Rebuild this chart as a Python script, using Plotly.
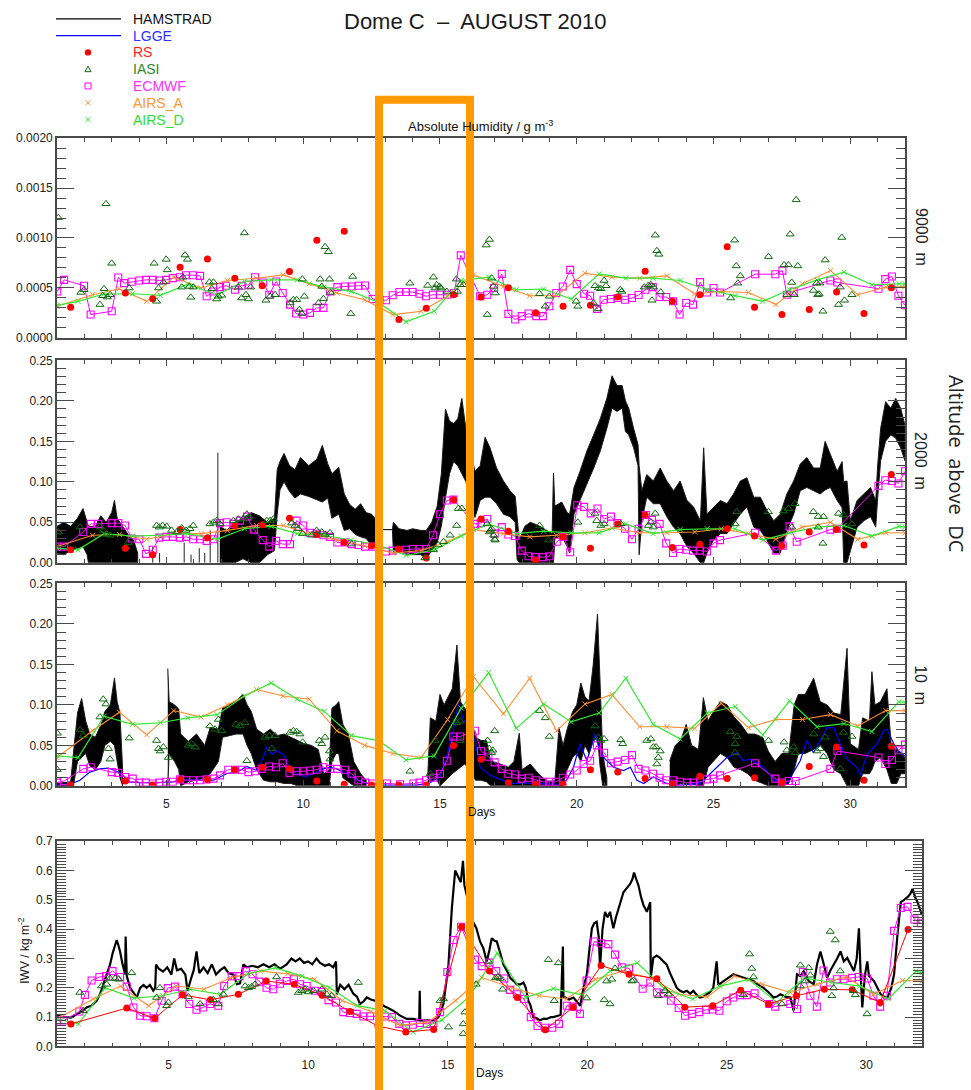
import plotly.graph_objects as go

W, H = 971, 1090

# ============================ DATA ============================
# Day of August 2010 on the x axis.

# ---------- 9000 m (absolute humidity, units of 1e-4 g m-3) ----------
ECMWF_9000_DAY = [1.01, 1.26, 1.99, 2.23, 3.0, 3.24, 3.45, 3.73, 4.01, 4.25,
                  4.5, 4.74, 4.99, 5.23, 5.5, 5.72, 5.96, 6.23, 6.47, 6.72,
                  6.96, 7.18, 7.51, 7.75, 8.0, 8.24, 8.54, 8.76, 9.01, 9.25,
                  9.52, 9.74, 10.01, 10.25, 10.49, 10.74, 10.98, 11.25, 11.53, 11.77,
                  12.02, 12.26, 12.54, 12.79, 13.03, 13.27, 13.52, 13.76, 14.0, 14.25,
                  14.49, 14.74, 15.0, 15.27, 15.52, 15.76, 16.47, 16.73, 16.98, 17.26,
                  17.5, 17.75, 17.99, 18.24, 18.52, 18.76, 19.0, 19.25, 19.49, 19.76,
                  20.0, 20.27, 20.49, 20.74, 20.98, 21.25, 21.49, 21.77, 22.02, 22.26,
                  22.51, 22.78, 23.03, 23.27, 23.52, 23.76, 24.0, 24.25, 24.51, 24.76,
                  25.0, 25.24, 26.52, 27.26, 27.52, 27.68, 27.93, 29.27, 29.53, 31.03,
                  31.28, 31.52, 31.76, 32.0]
ECMWF_9000 = [4.64, 5.80, 5.21, 2.32, 2.65, 6.04, 5.47, 5.61, 5.74, 5.80,
              5.80, 5.74, 5.80, 5.97, 6.07, 6.27, 6.27, 6.20, 4.15, 4.64,
              5.07, 5.21, 4.81, 5.21, 5.31, 6.07, 5.54, 4.31, 5.64, 4.48,
              3.32, 2.42, 2.32, 2.49, 2.99, 2.99, 4.64, 5.07, 5.14, 5.14,
              5.21, 5.24, 3.88, 3.81, 3.75, 4.25, 4.58, 4.58, 4.58, 4.41,
              4.15, 4.31, 4.31, 4.31, 4.48, 8.26, 4.15, 4.31, 4.98, 6.40,
              2.39, 1.82, 2.16, 2.42, 2.16, 2.16, 3.15, 4.48, 5.14, 6.80,
              5.37, 4.41, 4.21, 2.89, 3.81, 3.88, 3.98, 3.81, 3.98, 4.28,
              4.81, 5.07, 4.08, 4.08, 3.65, 2.32, 3.48, 3.32, 5.57, 4.54,
              4.98, 4.54, 6.37, 6.37, 6.73, 4.31, 4.64, 5.74, 5.54, 4.91,
              5.87, 6.14, 4.21, 3.25]

RS_9000_DAY = [1.5, 3.5, 4.5, 5.5, 6.5, 7.5, 8.5, 9.5, 10.5, 11.5,
               13.5, 14.5, 15.5, 16.5, 17.5, 18.5, 19.5, 20.5, 21.5, 22.5,
               23.5, 24.5, 25.5, 26.5, 27.5, 28.5, 29.5, 30.5, 31.5]
RS_9000 = [3.05, 4.48, 3.91, 7.06, 7.89, 5.97, 5.21, 6.63, 9.78, 10.68,
           1.82, 2.95, 4.31, 4.08, 5.01, 2.49, 3.15, 3.25, 4.08, 6.67,
           3.65, 4.31, 9.12, 3.05, 2.32, 2.82, 4.58, 2.42, 5.01]

IASI_9000_DAY = [1.05, 2.79, 3.0, 1.87, 1.99, 2.72, 2.57, 2.67, 2.84, 2.94,
                 3.64, 4.55, 4.99, 5.03, 4.89, 4.71, 4.64, 5.68, 5.77, 5.56,
                 5.6, 5.84, 5.98, 5.89, 6.57, 6.72, 6.66, 6.84, 6.9, 7.02,
                 7.85, 7.63, 7.75, 7.91, 8.0, 8.08, 8.64, 8.79, 8.97, 9.52,
                 9.64, 9.76, 9.86, 9.95, 10.04, 9.97, 10.62, 10.8, 10.92, 10.96,
                 10.68, 10.56, 10.74, 11.0, 11.81, 11.74, 13.9, 14.55, 14.76, 14.88,
                 14.98, 15.04, 14.82, 15.25, 15.6, 15.64, 15.74, 15.86, 16.69, 16.81,
                 16.73, 16.89, 16.95, 17.02, 18.64, 18.85, 19.0, 19.98, 20.04, 20.67,
                 20.79, 20.88, 21.0, 21.07, 20.61, 20.79, 21.59, 21.65, 22.47, 22.62,
                 22.71, 22.81, 22.75, 22.87, 22.93, 23.0, 23.07, 25.63, 25.77, 25.83,
                 25.98, 25.89, 27.01, 27.58, 27.74, 27.8, 28.02, 28.08, 27.86, 27.68,
                 27.95, 28.65, 28.77, 28.89, 28.81, 28.86, 29.0, 29.08, 29.57, 29.63,
                 29.69, 29.79, 30.06]
IASI_9000 = [12.04, 13.43, 7.46, 4.54, 4.81, 4.91, 3.32, 4.21, 4.08, 4.31,
             4.98, 7.46, 7.86, 6.80, 5.57, 4.98, 3.65, 8.29, 7.86, 5.07,
             6.07, 5.14, 5.07, 4.05, 5.57, 5.57, 4.91, 3.88, 4.15, 4.25,
             10.51, 5.07, 3.98, 4.31, 3.88, 5.07, 3.75, 4.15, 4.31, 3.48,
             3.81, 3.81, 2.82, 2.42, 4.15, 5.87, 5.87, 9.12, 8.62, 5.87,
             5.14, 3.48, 3.91, 4.54, 6.14, 2.42, 5.47, 5.24, 6.07, 5.31,
             5.14, 4.98, 4.98, 4.64, 5.87, 4.64, 5.31, 5.31, 9.29, 9.85,
             2.32, 5.97, 5.14, 4.48, 4.41, 3.15, 4.15, 3.65, 3.15, 5.21,
             4.98, 4.91, 5.74, 5.21, 3.48, 2.89, 4.81, 4.64, 5.07, 5.24,
             5.31, 5.07, 3.75, 10.28, 8.72, 8.36, 4.58, 3.98, 9.78, 7.2,
             6.2, 5.47, 8.13, 7.3, 7.3, 10.38, 13.83, 7.2, 5.54, 4.31,
             4.31, 4.74, 5.47, 5.47, 4.31, 4.38, 2.65, 7.79, 3.32, 5.07,
             10.05, 3.75, 4.31]

# AIRS ascending / descending overpass times (shared by all levels)
AIRS_A_DAY = [1.0, 2.3, 3.28, 4.28, 5.27, 6.27, 7.23, 8.29, 9.27, 10.22,
              11.23, 12.25, 13.28, 14.31, 15.28, 16.22, 17.32, 18.28, 19.26, 20.3,
              21.28, 22.3, 23.29, 24.31, 25.28, 26.28, 27.28, 28.25, 29.28, 30.27,
              31.3, 32.0]
AIRS_D_DAY = [1.0, 1.77, 2.72, 3.76, 4.78, 5.78, 6.85, 7.85, 8.83, 9.78,
              10.77, 11.76, 12.75, 13.76, 14.79, 15.78, 16.78, 17.79, 18.79, 19.8,
              20.82, 21.79, 22.79, 23.78, 24.77, 25.79, 26.8, 27.78, 28.78, 29.77,
              30.79, 31.78, 32.0]

AIRS_A_9000 = [3.15, 4.31, 4.91, 3.65, 6.07, 4.98, 5.74, 5.97, 6.30, 5.41,
               4.48, 3.81, 2.32, 2.65, 4.15, 6.30, 5.14, 4.21, 4.21, 6.47,
               6.07, 5.97, 6.20, 4.41, 4.64, 4.54, 3.32, 5.41, 6.73, 4.31,
               5.07, 5.14]
AIRS_D_9000 = [3.25, 3.65, 4.38, 4.41, 4.25, 5.37, 4.31, 5.64, 5.80, 5.80,
               5.07, 4.64, 3.55, 1.59, 2.65, 5.74, 6.07, 4.81, 4.88, 3.88,
               6.40, 5.97, 5.97, 5.74, 4.81, 4.21, 3.65, 4.81, 5.80, 6.57,
               5.31, 5.40, 5.41]

# ---------- 2000 m (absolute humidity, g m-3) ----------
# HAMSTRAD envelope (low / high of the 7-min record); None splits data gaps
HAM_2000_DAY = [1.0, 1.25, 1.5, 1.75, 1.95, 2.1, 2.15, 2.4, 2.6, 2.8,
                3.0, 3.1, 3.2, 3.4, 3.6, 3.8, 3.95, None,
                6.95, 7.2, 7.5, 7.8, 8.1, 8.4, 8.7, 8.95, 9.05, 9.15,
                9.3, 9.5, 9.7, 9.9, 10.2, 10.5, 10.7, 10.9, 11.05, 11.3,
                11.5, 11.7, 11.9, 12.1, 12.3, 12.5, 12.62, 12.66, 13.26, 13.3,
                13.5, 13.8, 14.0, 14.3, 14.5, 14.7, 14.9, 15.05, 15.2, 15.35,
                15.5, 15.65, 15.8, 15.95, 16.1, 16.28, 16.47, 16.65, 16.83, 17.07,
                17.32, 17.56, 17.75, 17.82, 17.9, 18.1, 18.3, 18.6, 18.9, 19.1,
                19.15, 19.2, 19.45, 19.65, 19.74, 19.9, 20.12, 20.37, 20.62, 20.86,
                21.1, 21.29, 21.47, 21.66, 21.78, 21.9, 22.08, 22.24, 22.28, 22.38,
                22.56, 22.8, 23.05, 23.29, 23.54, 23.78, 24.03, 24.27, 24.52, 24.64,
                24.76, 25.0, 25.25, 25.49, 25.73, 25.98, 26.22, 26.47, 26.71, 26.95,
                27.2, 27.44, 27.68, 27.93, 28.17, 28.41, 28.66, 28.9, 29.08, 29.27,
                29.52, 29.7, 29.76, 29.88, 30.0, 30.25, 30.5, 30.74, 30.93, 31.0,
                31.11, 31.29, 31.48, 31.66, 31.84, 32.0]
HAM_2000_LO = [0.012, 0.010, 0.015, 0.018, 0.020, 0.010, 0.0, 0.0, 0.0, 0.0,
               0.0, 0.0, 0.0, 0.0, 0.0, 0.0, 0.0, None,
               0.0, 0.0, 0.0, 0.005, 0.0, 0.0, 0.010, 0.015, 0.060, 0.090,
               0.100, 0.088, 0.080, 0.085, 0.082, 0.078, 0.075, 0.080, 0.055, 0.060,
               0.040, 0.042, 0.035, 0.032, 0.030, 0.022, 0.020, 0.041, 0.041, 0.012,
               0.015, 0.010, 0.010, 0.010, 0.005, 0.015, 0.025, 0.045, 0.080, 0.110,
               0.125, 0.120, 0.110, 0.100, 0.080, 0.056, 0.077, 0.081, 0.081, 0.073,
               0.060, 0.057, 0.050, 0.004, 0.0, 0.0, 0.0, 0.0, 0.0, 0.0,
               0.0, 0.030, 0.033, 0.020, 0.012, 0.060, 0.077, 0.097, 0.117, 0.138,
               0.166, 0.191, 0.187, 0.191, 0.162, 0.158, 0.142, 0.120, 0.010, 0.052,
               0.081, 0.073, 0.073, 0.057, 0.044, 0.036, 0.020, 0.012, 0.0, 0.0,
               0.012, 0.028, 0.036, 0.036, 0.048, 0.060, 0.069, 0.044, 0.040, 0.028,
               0.012, 0.012, 0.040, 0.060, 0.089, 0.093, 0.089, 0.085, 0.090, 0.093,
               0.077, 0.068, 0.0, 0.0, 0.012, 0.044, 0.052, 0.057, 0.044, 0.080,
               0.126, 0.150, 0.158, 0.154, 0.142, 0.126]
HAM_2000_HI = [0.045, 0.050, 0.045, 0.055, 0.067, 0.050, 0.045, 0.045, 0.058, 0.050,
               0.062, 0.077, 0.055, 0.045, 0.035, 0.028, 0.012, None,
               0.045, 0.040, 0.050, 0.055, 0.062, 0.058, 0.050, 0.055, 0.115, 0.125,
               0.135, 0.120, 0.115, 0.130, 0.120, 0.128, 0.145, 0.122, 0.110, 0.118,
               0.085, 0.072, 0.066, 0.073, 0.062, 0.060, 0.055, 0.041, 0.041, 0.050,
               0.042, 0.040, 0.042, 0.040, 0.040, 0.050, 0.070, 0.110, 0.190, 0.175,
               0.172, 0.178, 0.203, 0.165, 0.140, 0.113, 0.120, 0.155, 0.142, 0.117,
               0.101, 0.089, 0.082, 0.060, 0.028, 0.045, 0.050, 0.046, 0.040, 0.036,
               0.111, 0.070, 0.075, 0.062, 0.060, 0.093, 0.113, 0.138, 0.158, 0.178,
               0.203, 0.231, 0.219, 0.219, 0.200, 0.191, 0.166, 0.146, 0.120, 0.089,
               0.109, 0.101, 0.117, 0.101, 0.089, 0.101, 0.077, 0.069, 0.052, 0.142,
               0.060, 0.069, 0.077, 0.073, 0.085, 0.101, 0.105, 0.081, 0.081, 0.065,
               0.052, 0.060, 0.085, 0.101, 0.122, 0.130, 0.117, 0.117, 0.150, 0.134,
               0.113, 0.125, 0.100, 0.101, 0.052, 0.077, 0.085, 0.093, 0.077, 0.120,
               0.166, 0.199, 0.191, 0.203, 0.191, 0.170]
# isolated HAMSTRAD samples inside the early-month gap
HAM_2000_SPIKE_DAY = [4.5, 4.75, 5.65, 5.9, 6.2, 6.4, 6.6, 6.88]
HAM_2000_SPIKE = [0.020, 0.012, 0.025, 0.010, 0.018, 0.012, 0.040, 0.136]

ECMWF_2000_DAY = [1.0, 1.26, 1.96, 2.23, 2.51, 3.0, 3.24, 3.49, 3.73, 4.01,
                  4.25, 4.5, 4.74, 4.99, 5.23, 5.5, 5.72, 5.98, 6.23, 6.47,
                  6.72, 6.96, 7.2, 7.45, 7.69, 7.94, 8.2, 8.52, 8.76, 9.01,
                  9.25, 9.52, 9.76, 10.0, 10.25, 10.49, 10.74, 10.98, 11.25, 11.53,
                  11.77, 12.02, 12.26, 12.54, 13.03, 13.27, 13.76, 14.0, 14.25, 14.49,
                  14.75, 15.0, 15.25, 15.49, 16.28, 16.49, 16.73, 17.0, 17.26, 17.5,
                  17.74, 17.99, 18.24, 18.48, 18.76, 19.0, 19.27, 19.51, 19.76, 20.02,
                  20.27, 20.51, 20.76, 21.0, 21.25, 21.49, 21.77, 22.02, 22.26, 22.53,
                  22.75, 23.03, 23.27, 23.52, 23.76, 24.0, 24.25, 24.49, 24.76, 25.0,
                  25.24, 26.52, 27.29, 27.53, 27.78, 28.04, 29.27, 29.51, 31.03, 31.28,
                  31.52, 31.76, 32.0]
ECMWF_2000 = [0.020, 0.020, 0.038, 0.048, 0.048, 0.049, 0.049, 0.046, 0.030, 0.029,
              0.011, 0.016, 0.031, 0.032, 0.032, 0.031, 0.032, 0.029, 0.029, 0.027,
              0.029, 0.049, 0.050, 0.048, 0.052, 0.057, 0.041, 0.028, 0.020, 0.027,
              0.023, 0.023, 0.052, 0.046, 0.037, 0.036, 0.034, 0.032, 0.025, 0.025,
              0.023, 0.022, 0.020, 0.020, 0.014, 0.015, 0.016, 0.017, 0.017, 0.017,
              0.034, 0.060, 0.077, 0.078, 0.048, 0.049, 0.054, 0.036, 0.044, 0.035,
              0.033, 0.015, 0.008, 0.007, 0.007, 0.008, 0.026, 0.032, 0.013, 0.071,
              0.069, 0.061, 0.067, 0.054, 0.057, 0.049, 0.042, 0.029, 0.042, 0.059,
              0.053, 0.048, 0.024, 0.012, 0.017, 0.016, 0.015, 0.015, 0.014, 0.024,
              0.028, 0.037, 0.015, 0.021, 0.045, 0.026, 0.041, 0.042, 0.095, 0.102,
              0.101, 0.098, 0.113]

RS_DAY = [1.5, 3.5, 4.5, 5.5, 6.5, 7.5, 8.5, 9.5, 10.5, 11.5,
          12.5, 13.5, 14.5, 15.5, 16.5, 17.5, 18.5, 19.5, 20.5, 21.5,
          22.5, 23.5, 24.5, 25.5, 26.5, 27.5, 28.5, 29.5, 30.5, 31.5]
RS_2000 = [0.016, 0.018, 0.010, 0.041, 0.031, 0.046, 0.047, 0.055, 0.035, 0.025,
           0.021, 0.017, 0.006, 0.078, 0.054, 0.039, 0.003, 0.032, 0.018, 0.048,
           0.059, 0.019, 0.023, 0.042, 0.033, 0.021, 0.038, 0.041, 0.022, 0.109]

IASI_2000_DAY = [1.05, 1.84, 2.57, 2.69, 2.82, 2.94, 3.61, 4.64, 4.74, 4.86,
                 5.01, 5.19, 5.38, 5.56, 5.72, 5.86, 5.98, 6.59, 6.72, 6.84,
                 6.96, 7.45, 7.63, 7.81, 7.94, 8.03, 8.67, 8.79, 8.91, 9.58,
                 9.7, 9.82, 9.98, 10.31, 10.49, 10.68, 10.8, 10.98, 11.77, 14.45,
                 14.76, 14.94, 15.13, 15.37, 15.61, 15.67, 15.8, 16.72, 16.84, 16.96,
                 17.0, 16.81, 16.89, 17.02, 18.64, 18.97, 20.04, 20.67, 20.73, 20.88,
                 21.0, 21.61, 22.62, 22.71, 22.8, 22.87, 25.85, 25.79, 27.01, 27.56,
                 27.74, 27.98, 27.86, 28.65, 28.83, 29.02, 28.83, 29.0, 29.57, 29.75,
                 30.06]
IASI_2000 = [0.038, 0.044, 0.044, 0.040, 0.035, 0.034, 0.025, 0.046, 0.044, 0.046,
             0.045, 0.040, 0.038, 0.043, 0.040, 0.042, 0.046, 0.048, 0.050, 0.052,
             0.048, 0.052, 0.054, 0.054, 0.060, 0.057, 0.052, 0.052, 0.054, 0.049,
             0.046, 0.042, 0.036, 0.034, 0.040, 0.038, 0.035, 0.037, 0.023, 0.006,
             0.016, 0.022, 0.026, 0.034, 0.046, 0.067, 0.067, 0.048, 0.040, 0.034,
             0.029, 0.038, 0.042, 0.028, 0.046, 0.028, 0.050, 0.061, 0.052, 0.046,
             0.048, 0.048, 0.046, 0.050, 0.044, 0.061, 0.063, 0.048, 0.063, 0.064,
             0.067, 0.073, 0.044, 0.063, 0.057, 0.057, 0.044, 0.024, 0.061, 0.059,
             0.048]

AIRS_A_2000 = [0.020, 0.034, 0.035, 0.029, 0.036, 0.036, 0.040, 0.046, 0.046, 0.036,
               0.028, 0.021, 0.012, 0.015, 0.026, 0.041, 0.036, 0.032, 0.034, 0.037,
               0.043, 0.037, 0.037, 0.038, 0.042, 0.036, 0.029, 0.044, 0.050, 0.029,
               0.037, 0.037]
AIRS_D_2000 = [0.018, 0.016, 0.036, 0.033, 0.034, 0.036, 0.029, 0.042, 0.045, 0.036,
               0.034, 0.028, 0.022, 0.009, 0.016, 0.033, 0.048, 0.036, 0.039, 0.037,
               0.037, 0.048, 0.036, 0.041, 0.042, 0.042, 0.028, 0.037, 0.044, 0.046,
               0.033, 0.045, 0.044]

# ---------- 10 m (absolute humidity, g m-3) ----------
HAM_10_DAY = [1.0, 1.5, 1.6, 1.75, 1.9, 2.05, 2.2, 2.4, 2.6, 2.75,
              2.95, 3.1, 3.2, 3.3, 3.4, None,
              5.05, 5.1, 5.3, 5.45, 5.52, 5.8, 6.1, 6.4, 6.6, 6.9,
              7.05, 7.3, 7.55, 7.8, 7.95, 8.1, 8.3, 8.55, 8.8, 9.05,
              9.3, 9.55, 9.8, 10.05, 10.3, 10.55, 10.75, 10.95, 11.05, 11.2,
              11.3, 11.45, 11.65, 11.85, 12.1, 12.3, None,
              14.55, 14.65, 14.85, 15.0, 15.15, 15.3, 15.45, 15.62, 15.75, 15.9,
              16.1, 16.3, 16.5, 16.7, 16.85, 17.2, 17.5, 17.7, 17.9, 18.0,
              18.3, 18.6, 18.9, 19.2, 19.35, 19.5, 19.65, 19.85, 20.0, 20.15,
              20.3, 20.45, 20.6, 20.76, 20.85, 20.95, 21.1, None,
              23.4, 23.6, 23.8, 24.0, 24.2, 24.45, 24.63, 24.8, 25.0, 25.25,
              25.5, 25.75, 26.0, 26.25, 26.5, 26.8, 27.0, 27.25, 27.5, 27.75,
              27.95, 28.1, 28.35, 28.66, 28.9, 29.15, 29.4, 29.65, 29.88, 30.0,
              30.3, 30.45, 30.7, 30.79, 30.9, 31.1, 31.34, 31.5, 31.7, 31.85,
              32.0]
HAM_10_LO = [0.0, 0.0, 0.0, 0.030, 0.035, 0.040, 0.025, 0.020, 0.030, 0.050,
             0.055, 0.050, 0.030, 0.010, 0.0, None,
             0.0, 0.040, 0.030, 0.020, 0.0, 0.005, 0.007, 0.010, 0.015, 0.030,
             0.060, 0.062, 0.064, 0.064, 0.050, 0.040, 0.020, 0.007, 0.005, 0.005,
             0.003, 0.003, 0.0, 0.0, 0.0, 0.0, 0.0, 0.0, 0.030, 0.040,
             0.040, 0.010, 0.005, 0.0, 0.0, 0.0, None,
             0.0, 0.005, 0.010, 0.0, 0.005, 0.010, 0.015, 0.020, 0.023, 0.027,
             0.020, 0.007, 0.007, 0.005, 0.0, 0.0, 0.0, 0.0, 0.0, 0.0,
             0.0, 0.0, 0.0, 0.0, 0.0, 0.0, 0.020, 0.035, 0.040, 0.030,
             0.050, 0.040, 0.055, 0.060, 0.025, 0.0, 0.0, None,
             0.0, 0.0, 0.003, 0.003, 0.003, 0.0, 0.0, 0.023, 0.030, 0.040,
             0.035, 0.023, 0.020, 0.015, 0.007, 0.003, 0.0, 0.0, 0.0, 0.003,
             0.020, 0.040, 0.040, 0.045, 0.050, 0.040, 0.020, 0.015, 0.0, 0.0,
             0.0, 0.015, 0.015, 0.020, 0.030, 0.035, 0.020, 0.003, 0.003, 0.015,
             0.015]
HAM_10_HI = [0.003, 0.005, 0.040, 0.090, 0.108, 0.080, 0.064, 0.060, 0.075, 0.092,
             0.100, 0.133, 0.104, 0.090, 0.020, None,
             0.145, 0.104, 0.100, 0.095, 0.064, 0.055, 0.064, 0.050, 0.072, 0.070,
             0.096, 0.100, 0.105, 0.113, 0.100, 0.092, 0.070, 0.064, 0.070, 0.062,
             0.064, 0.060, 0.056, 0.052, 0.050, 0.045, 0.015, 0.020, 0.096, 0.100,
             0.104, 0.076, 0.064, 0.030, 0.015, 0.007, None,
             0.010, 0.084, 0.080, 0.113, 0.100, 0.110, 0.120, 0.174, 0.104, 0.096,
             0.090, 0.060, 0.056, 0.056, 0.031, 0.027, 0.023, 0.030, 0.065, 0.020,
             0.027, 0.015, 0.006, 0.006, 0.072, 0.050, 0.070, 0.092, 0.100, 0.127,
             0.110, 0.105, 0.149, 0.212, 0.125, 0.040, 0.010, None,
             0.031, 0.050, 0.056, 0.076, 0.050, 0.045, 0.109, 0.080, 0.092, 0.104,
             0.100, 0.085, 0.076, 0.064, 0.064, 0.060, 0.043, 0.030, 0.040, 0.040,
             0.100, 0.113, 0.113, 0.133, 0.104, 0.100, 0.090, 0.088, 0.170, 0.052,
             0.045, 0.084, 0.080, 0.141, 0.100, 0.104, 0.120, 0.048, 0.045, 0.040,
             0.035]

LGGE_10_DAY = [1.0, 1.54, 1.84, 2.2, 2.57, 2.88, 3.18, 3.43, 3.55, 4.03,
               4.64, 5.25, 5.62, 6.23, 6.72, 7.2, 7.69, 7.93, 8.3, 8.54,
               8.67, 8.85, 9.03, 9.28, 9.49, 9.76, 10.07, 10.37, 10.74, 10.98,
               11.23, 11.59, 11.96, 12.32, 12.93, 14.15, 14.64, 15.0, 15.2, 15.46,
               15.68, 15.83, 16.28, 16.47, 16.83, 17.2, 17.68, 18.3, 19.39, 19.63,
               19.88, 20.12, 20.37, 20.67, 20.86, 21.04, 21.35, 21.71, 21.96, 22.2,
               22.45, 22.8, 23.29, 23.78, 24.52, 25.0, 25.49, 25.85, 26.1, 26.34,
               26.83, 27.2, 27.68, 28.17, 28.41, 28.66, 28.9, 29.15, 29.39, 29.57,
               29.88, 30.24, 30.37, 30.61, 30.98, 31.22, 31.34, 31.59, 31.77, 32.0]
LGGE_10 = [0.001, 0.003, 0.007, 0.017, 0.021, 0.022, 0.018, 0.013, 0.005, 0.004,
           0.004, 0.005, 0.007, 0.007, 0.007, 0.015, 0.019, 0.024, 0.019, 0.035,
           0.048, 0.039, 0.043, 0.039, 0.023, 0.015, 0.011, 0.015, 0.021, 0.023,
           0.021, 0.015, 0.007, 0.003, 0.001, 0.001, 0.004, 0.011, 0.031, 0.064,
           0.102, 0.084, 0.056, 0.023, 0.013, 0.008, 0.003, 0.003, 0.002, 0.007,
           0.023, 0.052, 0.031, 0.064, 0.043, 0.033, 0.023, 0.019, 0.023, 0.007,
           0.003, 0.011, 0.003, 0.001, 0.003, 0.019, 0.035, 0.041, 0.031, 0.033,
           0.023, 0.007, 0.003, 0.031, 0.056, 0.041, 0.056, 0.072, 0.072, 0.056,
           0.033, 0.023, 0.013, 0.039, 0.052, 0.068, 0.070, 0.052, 0.043, 0.037]

ECMWF_10_DAY = [1.0, 1.26, 1.96, 2.23, 3.0, 3.24, 3.49, 3.77, 4.01, 4.25,
                4.5, 4.74, 4.99, 5.23, 5.5, 5.72, 5.98, 6.23, 6.47, 6.72,
                6.96, 7.26, 7.51, 7.75, 8.0, 8.24, 8.48, 8.76, 9.01, 9.25,
                9.5, 9.76, 10.0, 10.25, 10.49, 10.74, 10.98, 11.25, 11.53, 11.77,
                12.02, 12.26, 12.54, 13.06, 13.54, 14.03, 14.25, 14.49, 14.76, 15.0,
                15.25, 15.49, 15.74, 16.28, 16.5, 16.77, 17.0, 17.26, 17.5, 17.75,
                17.99, 18.24, 18.52, 18.76, 19.0, 19.25, 19.49, 19.76, 20.0, 20.25,
                20.49, 20.74, 21.0, 21.25, 21.49, 21.77, 22.02, 22.26, 22.51, 22.79,
                23.03, 23.27, 23.52, 23.78, 24.03, 24.27, 24.51, 24.76, 25.0, 25.24,
                26.52, 27.26, 27.5, 27.75, 28.0, 29.27, 29.53, 31.03, 31.28, 31.52,
                31.76, 32.0]
ECMWF_10 = [0.004, 0.006, 0.021, 0.023, 0.017, 0.016, 0.011, 0.009, 0.004, 0.004,
            0.003, 0.004, 0.005, 0.005, 0.008, 0.007, 0.007, 0.007, 0.008, 0.009,
            0.013, 0.020, 0.020, 0.020, 0.017, 0.018, 0.021, 0.024, 0.023, 0.028,
            0.016, 0.018, 0.018, 0.019, 0.020, 0.023, 0.021, 0.021, 0.020, 0.015,
            0.007, 0.004, 0.003, 0.003, 0.002, 0.003, 0.004, 0.007, 0.010, 0.015,
            0.031, 0.061, 0.061, 0.068, 0.043, 0.036, 0.029, 0.021, 0.015, 0.014,
            0.009, 0.010, 0.007, 0.005, 0.005, 0.005, 0.010, 0.014, 0.019, 0.027,
            0.031, 0.050, 0.041, 0.028, 0.030, 0.032, 0.038, 0.021, 0.019, 0.015,
            0.010, 0.007, 0.007, 0.005, 0.004, 0.004, 0.005, 0.008, 0.009, 0.013,
            0.028, 0.009, 0.004, 0.006, 0.006, 0.021, 0.043, 0.035, 0.027, 0.032,
            0.044, 0.051]

RS_10 = [0.001, 0.006, 0.001, 0.008, 0.008, 0.020, 0.023, 0.021, 0.006, 0.002,
         0.001, 0.001, 0.001, 0.050, 0.033, 0.004, 0.002, 0.002, 0.020, 0.017,
         0.009, 0.002, 0.012, 0.009, 0.010, 0.004, 0.024, 0.048, 0.007, 0.049]

IASI_10_DAY = [1.01, 1.01, 1.84, 1.96, 2.57, 2.69, 2.79, 2.88, 2.94, 3.64,
               4.64, 4.71, 4.77, 4.89, 5.07, 5.8, 5.92, 6.05, 6.59, 6.78,
               6.9, 7.02, 7.54, 7.69, 7.87, 7.94, 8.6, 8.76, 8.85, 8.97,
               9.52, 9.64, 9.76, 9.88, 9.98, 10.59, 10.68, 10.8, 10.96, 10.98,
               13.9, 14.64, 14.82, 15.61, 15.74, 15.74, 16.74, 16.8, 16.89, 17.0,
               16.93, 18.64, 18.85, 19.0, 20.67, 20.79, 20.88, 21.0, 21.61, 21.68,
               22.56, 22.71, 22.8, 22.9, 23.05, 22.98, 22.93, 25.61, 25.85, 25.79,
               25.79, 27.01, 27.58, 27.68, 27.93, 27.99, 28.66, 28.78, 28.9, 29.02,
               29.08, 29.63, 29.75, 30.06]
IASI_10 = [0.065, 0.020, 0.069, 0.062, 0.085, 0.107, 0.101, 0.046, 0.033, 0.059,
           0.056, 0.046, 0.043, 0.048, 0.035, 0.050, 0.052, 0.048, 0.074, 0.070,
           0.082, 0.068, 0.076, 0.074, 0.078, 0.031, 0.060, 0.062, 0.046, 0.062,
           0.066, 0.068, 0.067, 0.064, 0.054, 0.056, 0.052, 0.060, 0.043, 0.033,
           0.018, 0.015, 0.056, 0.078, 0.056, 0.080, 0.056, 0.046, 0.041, 0.068,
           0.044, 0.093, 0.084, 0.061, 0.074, 0.060, 0.056, 0.058, 0.057, 0.052,
           0.056, 0.058, 0.048, 0.048, 0.043, 0.035, 0.027, 0.067, 0.061, 0.052,
           0.041, 0.056, 0.054, 0.044, 0.048, 0.041, 0.064, 0.043, 0.046, 0.036,
           0.060, 0.021, 0.066, 0.061]

AIRS_A_10 = [0.035, 0.068, 0.091, 0.063, 0.093, 0.085, 0.100, 0.119, 0.111, 0.107,
             0.068, 0.050, 0.040, 0.035, 0.082, 0.135, 0.089, 0.133, 0.068, 0.101,
             0.113, 0.073, 0.073, 0.071, 0.102, 0.072, 0.082, 0.082, 0.088, 0.074,
             0.093, 0.093]
AIRS_D_10 = [0.037, 0.035, 0.086, 0.076, 0.078, 0.084, 0.088, 0.111, 0.127, 0.107,
             0.092, 0.062, 0.056, 0.032, 0.037, 0.096, 0.140, 0.071, 0.101, 0.079,
             0.090, 0.133, 0.076, 0.058, 0.090, 0.098, 0.063, 0.105, 0.073, 0.077,
             0.067, 0.104, 0.103]

# ---------- Integrated water vapour (kg m-2) ----------
HAM_IWV_DAY = [1.0, 1.2, 1.35, 1.5, 1.7, 1.9, 2.06, 2.25, 2.42, 2.55,
               2.66, 2.78, 2.9, 3.0, 3.08, 3.14, 3.2, 3.26, 3.35, 3.44,
               3.46, 3.5, 3.62, 3.75, 3.86, 3.98, 4.1, 4.21, 4.33, 4.45,
               4.52, 4.55, 4.65, 4.8, 4.95, 5.1, 5.2, 5.3, 5.45, 5.6,
               5.68, 5.8, 5.9, 6.0, 6.1, 6.25, 6.4, 6.55, 6.7, 6.85,
               7.0, 7.15, 7.32, 7.45, 7.56, 7.68, 7.8, 8.0, 8.2, 8.4,
               8.6, 8.8, 9.0, 9.23, 9.4, 9.55, 9.7, 9.85, 10.0, 10.15,
               10.3, 10.43, 10.6, 10.75, 10.9, 11.0, 11.03, 11.15, 11.3, 11.45,
               11.62, 11.75, 11.86, 12.0, 12.1, 12.25, 12.4, 12.7, 12.9, 13.05,
               13.3, 13.53, 13.77, 13.98, 14.0, 14.02, 14.25, 14.49, 14.67, 14.85,
               15.03, 15.15, 15.27, 15.39, 15.47, 15.55, 15.6, 15.66, 15.8, 15.91,
               16.03, 16.16, 16.28, 16.4, 16.5, 16.58, 16.68, 16.76, 16.88, 17.0,
               17.13, 17.24, 17.37, 17.48, 17.61, 17.72, 17.8, 17.89, 17.97, 18.07,
               18.21, 18.31, 18.45, 18.55, 18.7, 18.79, 18.95, 19.05, 19.13, 19.15,
               19.21, 19.35, 19.51, 19.65, 19.75, 19.87, 19.99, 20.08, 20.17, 20.25,
               20.34, 20.42, 20.46, 20.55, 20.64, 20.73, 20.82, 20.88, 20.94, 21.03,
               21.12, 21.2, 21.3, 21.42, 21.54, 21.62, 21.68, 21.76, 21.84, 21.93,
               22.02, 22.14, 22.26, 22.28, 22.37, 22.49, 22.61, 22.73, 22.85, 22.97,
               23.09, 23.21, 23.33, 23.45, 23.57, 23.69, 23.81, 23.93, 24.05, 24.17,
               24.29, 24.4, 24.52, 24.64, 24.7, 24.88, 25.05, 25.24, 25.42, 25.6,
               25.78, 25.96, 26.14, 26.32, 26.5, 26.68, 26.8, 26.92, 27.1, 27.28,
               27.4, 27.52, 27.64, 27.76, 27.94, 28.12, 28.24, 28.36, 28.48, 28.6,
               28.72, 28.84, 28.96, 29.08, 29.2, 29.32, 29.44, 29.56, 29.66, 29.74,
               29.8, 29.86, 29.95, 30.04, 30.1, 30.28, 30.4, 30.52, 30.64, 30.76,
               30.9, 31.0, 31.12, 31.24, 31.36, 31.48, 31.58, 31.66, 31.75, 31.84,
               31.92, 32.0]
HAM_IWV = [0.105, 0.100, 0.100, 0.098, 0.110, 0.120, 0.133, 0.140, 0.156, 0.180,
           0.212, 0.245, 0.279, 0.320, 0.347, 0.363, 0.345, 0.324, 0.280, 0.246,
           0.375, 0.240, 0.200, 0.180, 0.167, 0.200, 0.210, 0.200, 0.210, 0.190,
           0.200, 0.279, 0.265, 0.255, 0.270, 0.245, 0.300, 0.260, 0.265, 0.245,
           0.190, 0.230, 0.260, 0.324, 0.250, 0.270, 0.250, 0.280, 0.245, 0.260,
           0.270, 0.250, 0.245, 0.212, 0.215, 0.280, 0.270, 0.275, 0.270, 0.280,
           0.270, 0.280, 0.265, 0.280, 0.300, 0.290, 0.300, 0.285, 0.290, 0.280,
           0.300, 0.285, 0.275, 0.280, 0.270, 0.290, 0.178, 0.210, 0.195, 0.210,
           0.180, 0.170, 0.145, 0.155, 0.167, 0.160, 0.156, 0.139, 0.130, 0.122,
           0.105, 0.094, 0.094, 0.089, 0.190, 0.090, 0.089, 0.089, 0.100, 0.145,
           0.279, 0.470, 0.600, 0.575, 0.560, 0.633, 0.550, 0.526, 0.470, 0.425,
           0.403, 0.358, 0.335, 0.290, 0.330, 0.369, 0.360, 0.358, 0.320, 0.279,
           0.257, 0.234, 0.223, 0.212, 0.212, 0.218, 0.200, 0.156, 0.140, 0.100,
           0.095, 0.089, 0.095, 0.094, 0.100, 0.100, 0.105, 0.108, 0.341, 0.170,
           0.167, 0.160, 0.167, 0.150, 0.139, 0.200, 0.246, 0.330, 0.403, 0.420,
           0.425, 0.370, 0.268, 0.400, 0.459, 0.440, 0.459, 0.430, 0.403, 0.440,
           0.470, 0.500, 0.526, 0.540, 0.554, 0.570, 0.593, 0.570, 0.549, 0.510,
           0.481, 0.459, 0.492, 0.234, 0.302, 0.310, 0.302, 0.290, 0.279, 0.250,
           0.223, 0.200, 0.190, 0.185, 0.190, 0.180, 0.190, 0.175, 0.167, 0.170,
           0.178, 0.185, 0.200, 0.290, 0.210, 0.223, 0.235, 0.246, 0.240, 0.234,
           0.230, 0.223, 0.210, 0.200, 0.185, 0.167, 0.170, 0.178, 0.170, 0.167,
           0.122, 0.246, 0.240, 0.257, 0.223, 0.212, 0.280, 0.324, 0.280, 0.234,
           0.260, 0.279, 0.300, 0.324, 0.290, 0.302, 0.280, 0.257, 0.300, 0.403,
           0.250, 0.133, 0.240, 0.290, 0.240, 0.223, 0.200, 0.178, 0.170, 0.167,
           0.200, 0.246, 0.380, 0.492, 0.500, 0.509, 0.520, 0.537, 0.510, 0.492,
           0.470, 0.448]

ECMWF_IWV_DAY = [1.0, 1.25, 1.8, 2.0, 2.24, 2.52, 2.76, 2.99, 3.26, 3.5,
                 3.74, 3.98, 4.21, 4.49, 4.75, 4.97, 5.23, 5.5, 5.74, 6.0,
                 6.24, 6.48, 6.78, 6.99, 7.26, 7.54, 7.77, 8.01, 8.25, 8.51,
                 8.75, 8.99, 9.23, 9.49, 9.71, 9.95, 10.25, 10.49, 10.73, 11.0,
                 11.26, 11.5, 11.74, 11.98, 12.22, 12.76, 13.0, 13.27, 13.51, 13.75,
                 14.01, 14.25, 14.49, 14.73, 14.99, 15.21, 15.48, 15.98, 16.22, 16.5,
                 16.74, 17.03, 17.24, 17.48, 17.74, 17.98, 18.22, 18.49, 18.75, 18.99,
                 19.27, 19.48, 19.74, 19.98, 20.25, 20.49, 20.76, 21.0, 21.24, 21.5,
                 21.99, 22.26, 22.5, 22.74, 23.0, 23.28, 23.51, 23.75, 24.02, 24.26,
                 24.49, 24.74, 25.0, 25.24, 25.48, 25.72, 26.0, 26.53, 26.74, 27.28,
                 27.52, 27.73, 28.0, 28.23, 28.47, 28.71, 28.95, 29.19, 29.49, 29.73,
                 30.03, 30.26, 30.5, 30.74, 31.0, 31.24, 31.48, 31.73, 31.96]
ECMWF_IWV = [0.089, 0.089, 0.119, 0.176, 0.225, 0.237, 0.240, 0.257, 0.237, 0.204,
             0.133, 0.105, 0.103, 0.096, 0.156, 0.199, 0.204, 0.178, 0.145, 0.125,
             0.133, 0.145, 0.139, 0.206, 0.240, 0.240, 0.257, 0.246, 0.221, 0.200,
             0.195, 0.214, 0.223, 0.229, 0.212, 0.206, 0.190, 0.186, 0.158, 0.150,
             0.117, 0.114, 0.111, 0.102, 0.103, 0.102, 0.100, 0.077, 0.072, 0.074,
             0.080, 0.077, 0.080, 0.117, 0.254, 0.363, 0.408, 0.296, 0.274, 0.286,
             0.257, 0.232, 0.193, 0.178, 0.162, 0.100, 0.070, 0.064, 0.064, 0.077,
             0.139, 0.136, 0.111, 0.225, 0.358, 0.352, 0.349, 0.313, 0.270, 0.266,
             0.197, 0.218, 0.184, 0.181, 0.156, 0.131, 0.105, 0.111, 0.117, 0.125,
             0.126, 0.122, 0.154, 0.167, 0.175, 0.175, 0.181, 0.145, 0.136, 0.145,
             0.128, 0.254, 0.173, 0.136, 0.259, 0.218, 0.229, 0.229, 0.234, 0.237,
             0.232, 0.173, 0.136, 0.173, 0.394, 0.472, 0.476, 0.433, 0.420]

RS_IWV = [0.077, 0.131, 0.096, 0.176, 0.159, 0.178, 0.223, 0.212, 0.175, 0.119,
          0.070, 0.049, 0.058, 0.408, 0.257, 0.167, 0.057, 0.134, 0.276, 0.246,
          0.231, 0.134, 0.139, 0.192, 0.145, 0.173, 0.195, 0.193, 0.150, 0.399]

IASI_IWV_DAY = [1.82, 1.94, 2.6, 2.78, 2.9, 3.08, 3.2, 3.68, 4.57, 4.69,
                4.93, 4.99, 5.71, 6.13, 6.6, 6.78, 6.96, 7.74, 7.86, 7.98,
                8.1, 8.87, 9.65, 9.77, 9.89, 10.01, 10.19, 10.49, 10.67, 10.84,
                11.8, 14.73, 14.85, 15.03, 15.56, 15.62, 15.56, 16.02, 16.46, 16.72,
                16.8, 16.88, 16.97, 18.61, 18.97, 18.82, 19.98, 20.61, 20.82, 20.7,
                20.88, 21.0, 21.6, 21.66, 22.55, 22.79, 22.91, 25.6, 25.82, 25.9,
                25.96, 26.98, 27.64, 27.94, 28.0, 27.82, 27.64, 28.71, 28.89, 29.07,
                28.77, 28.83, 29.55, 29.61, 30.03]
IASI_IWV = [0.184, 0.122, 0.206, 0.212, 0.232, 0.232, 0.229, 0.251, 0.167, 0.200,
            0.139, 0.150, 0.169, 0.145, 0.159, 0.145, 0.178, 0.206, 0.200, 0.204,
            0.212, 0.237, 0.184, 0.190, 0.195, 0.186, 0.190, 0.195, 0.178, 0.173,
            0.218, 0.156, 0.162, 0.066, 0.077, 0.117, 0.044, 0.212, 0.290, 0.234,
            0.237, 0.232, 0.195, 0.296, 0.285, 0.156, 0.165, 0.159, 0.145, 0.223,
            0.229, 0.266, 0.223, 0.225, 0.173, 0.190, 0.178, 0.176, 0.315, 0.266,
            0.237, 0.145, 0.277, 0.268, 0.243, 0.223, 0.206, 0.392, 0.363, 0.257,
            0.173, 0.199, 0.190, 0.176, 0.111]

AIRS_A_IWV = [0.094, 0.162, 0.206, 0.139, 0.206, 0.195, 0.234, 0.257, 0.248, 0.229,
              0.156, 0.119, 0.072, 0.083, 0.156, 0.235, 0.200, 0.173, 0.162, 0.229,
              0.257, 0.232, 0.178, 0.169, 0.240, 0.212, 0.184, 0.212, 0.237, 0.178,
              0.225, 0.223]
AIRS_D_IWV = [0.094, 0.077, 0.200, 0.165, 0.173, 0.195, 0.178, 0.248, 0.268, 0.240,
              0.200, 0.139, 0.122, 0.049, 0.090, 0.170, 0.319, 0.167, 0.197, 0.176,
              0.257, 0.285, 0.195, 0.162, 0.206, 0.229, 0.150, 0.234, 0.218, 0.206,
              0.162, 0.257, 0.251]

X_TICKS = [5, 10, 15, 20, 25, 30]

# ============================ STYLE ============================
FONT = "Liberation Sans, Arial, sans-serif"
AX = "#4a4a4a"
C_HAM = "#000000"
C_LGGE = "#0000ff"
C_RS = "#ff0000"
C_IASI = "#0f6a0f"
C_ECMWF = "#ff00ff"
C_AIRSA = "#ff8c2e"
C_AIRSD = "#2fe82f"
C_BOX = "#ff9a00"

# plot boxes in pixels: left, right, top, bottom
BOXES = [(57, 905, 133, 335), (57, 905, 358, 563), (57, 905, 584, 789), (57, 922, 845, 1053)]


def px(x):
    return x / W


def py(y):
    return 1 - y / H


def scaled(vals, f):
    return [v * f for v in vals]


def envelope(day, lo, hi):
    """Closed polygons (one per data segment) spanning the low/high envelope."""
    xs, ys, seg = [], [], []

    def flush():
        if seg:
            xs.extend([s[0] for s in seg] + [s[0] for s in reversed(seg)] + [None])
            ys.extend([s[2] for s in seg] + [s[1] for s in reversed(seg)] + [None])
            seg.clear()

    for d, l, h in zip(day, lo, hi):
        if d is None:
            flush()
        else:
            seg.append((d, l, h))
    flush()
    return xs, ys


def stems(day, top):
    xs, ys = [], []
    for d, t in zip(day, top):
        xs += [d, d, None]
        ys += [0, t, None]
    return xs, ys


fig = go.Figure()
AXN = ["", "2", "3", "4"]


def add(i, **kw):
    fig.add_trace(go.Scatter(xaxis="x" + AXN[i], yaxis="y" + AXN[i], showlegend=False,
                             hoverinfo="skip", **kw))


def ecmwf(i, d, v):
    add(i, x=d, y=v, mode="lines+markers", line=dict(color=C_ECMWF, width=1),
        marker=dict(symbol="square-open", size=7, color=C_ECMWF, line=dict(width=1.1)))


def airs(i, v_a, v_d):
    add(i, x=AIRS_A_DAY, y=v_a, mode="lines+markers", line=dict(color=C_AIRSA, width=1.1),
        marker=dict(symbol="x-thin", size=5, line=dict(color=C_AIRSA, width=1)))
    add(i, x=AIRS_D_DAY, y=v_d, mode="lines+markers", line=dict(color=C_AIRSD, width=1.2),
        marker=dict(symbol="x-thin", size=5, line=dict(color=C_AIRSD, width=1)))


def rs(i, d, v, with_line=False):
    add(i, x=d, y=v, mode="lines+markers" if with_line else "markers",
        line=dict(color=C_RS, width=1), marker=dict(symbol="circle", size=7, color=C_RS))


def iasi(i, d, v):
    add(i, x=d, y=v, mode="markers",
        marker=dict(symbol="triangle-up-open", size=7, color=C_IASI, line=dict(width=1)))


def hamstrad_band(i, d, lo, hi):
    xs, ys = envelope(d, lo, hi)
    add(i, x=xs, y=ys, mode="lines", fill="toself", fillcolor=C_HAM,
        line=dict(color="#1a1a1a", width=1))


# ---- panel 1 : 9000 m ----
S = 1e-4
ecmwf(0, ECMWF_9000_DAY, scaled(ECMWF_9000, S))
airs(0, scaled(AIRS_A_9000, S), scaled(AIRS_D_9000, S))
rs(0, RS_9000_DAY, scaled(RS_9000, S))
iasi(0, IASI_9000_DAY, scaled(IASI_9000, S))

# ---- panel 2 : 2000 m ----
hamstrad_band(1, HAM_2000_DAY, HAM_2000_LO, HAM_2000_HI)
sx, sy = stems(HAM_2000_SPIKE_DAY, HAM_2000_SPIKE)
add(1, x=sx, y=sy, mode="lines", line=dict(color="#222", width=1))
ecmwf(1, ECMWF_2000_DAY, ECMWF_2000)
airs(1, AIRS_A_2000, AIRS_D_2000)
rs(1, RS_DAY, RS_2000)
iasi(1, IASI_2000_DAY, IASI_2000)

# ---- panel 3 : 10 m ----
hamstrad_band(2, HAM_10_DAY, HAM_10_LO, HAM_10_HI)
add(2, x=LGGE_10_DAY, y=LGGE_10, mode="lines", line=dict(color=C_LGGE, width=1.2))
ecmwf(2, ECMWF_10_DAY, ECMWF_10)
airs(2, AIRS_A_10, AIRS_D_10)
rs(2, RS_DAY, RS_10)
iasi(2, IASI_10_DAY, IASI_10)

# ---- panel 4 : IWV ----
add(3, x=HAM_IWV_DAY, y=HAM_IWV, mode="lines", line=dict(color=C_HAM, width=2.2))
ecmwf(3, ECMWF_IWV_DAY, ECMWF_IWV)
airs(3, AIRS_A_IWV, AIRS_D_IWV)
rs(3, RS_DAY, RS_IWV, with_line=True)
iasi(3, IASI_IWV_DAY, IASI_IWV)

# ============================ AXES ============================
tickfont = dict(family=FONT, size=12, color="#222")
Y_SPEC = [
    dict(range=[0, 0.002], dtick=0.0005, tickformat=".4f", minor_dtick=0.0001),
    dict(range=[0, 0.25], dtick=0.05, tickformat=".2f", minor_dtick=0.01),
    dict(range=[0, 0.25], dtick=0.05, tickformat=".2f", minor_dtick=0.01),
    dict(range=[0, 0.7], dtick=0.1, tickformat=".1f", minor_dtick=0.01),
]
layout_axes = {}
for i, (l, r, t, b) in enumerate(BOXES):
    xn, yn = "xaxis" + AXN[i], "yaxis" + AXN[i]
    layout_axes[xn] = dict(
        domain=[px(l), px(r)], anchor="y" + AXN[i], range=[1, 32],
        tickmode="array", tickvals=X_TICKS, ticktext=[str(v) for v in X_TICKS],
        showticklabels=i >= 2, ticks="inside", ticklen=6, tickwidth=1, tickcolor=AX,
        ticklabelstandoff=6,
        minor=dict(dtick=1, tick0=0, ticks="inside", ticklen=4, tickwidth=1, tickcolor=AX),
        showline=True, linecolor=AX, linewidth=1.6, mirror="ticks",
        showgrid=False, zeroline=False, tickfont=tickfont)
    ys = Y_SPEC[i]
    layout_axes[yn] = dict(
        domain=[py(b), py(t)], anchor="x" + AXN[i], range=ys["range"],
        tick0=0, dtick=ys["dtick"], tickformat=ys["tickformat"],
        ticks="inside", ticklen=17, tickwidth=1, tickcolor=AX,
        minor=dict(dtick=ys["minor_dtick"], ticks="inside", ticklen=9, tickwidth=1, tickcolor=AX),
        showline=True, linecolor=AX, linewidth=1.6, mirror="ticks",
        showgrid=False, zeroline=False, tickfont=tickfont)

# ============================ TEXT ============================
ann = []


def text(x, y, s, size=12, angle=0, color="#111", xanchor="center", family=FONT):
    ann.append(dict(x=px(x), y=py(y), xref="paper", yref="paper", text=s, showarrow=False,
                    textangle=angle, xanchor=xanchor, yanchor="middle",
                    font=dict(family=family, size=size, color=color)))


text(475, 15, "Dome C  \u2013  AUGUST 2010", size=22, color="#1a1a1a")
text(480, 121, "Absolute Humidity / g m<sup>-3</sup>", size=13)
text(922, 233, "9000  m", size=16, angle=90, color="#222")
text(921, 460, "2000  m", size=16, angle=90, color="#222")
text(921, 687, "10  m", size=16, angle=90, color="#222")
text(957, 462, "Altitude  above  DC", size=20, angle=90, color="#222",
     family="Open Sans, Liberation Sans, sans-serif")
text(481, 815, "Days", size=12)
text(490, 1080, "Days", size=12)
text(24, 956, "IWV / kg m<sup>-2</sup>", size=12, angle=-90)

# legend block
LEG_NAMES = ["HAMSTRAD", "LGGE", "RS", "IASI", "ECMWF", "AIRS_A", "AIRS_D"]
LEG_COLORS = ["#111111", "#2f2fff", "#ff2020", "#2a8a2a", "#ff33ff", "#ff9633", "#33dd33"]
LEG_Y = [12, 29, 46, 63, 80, 97, 114]
for name, col, yy in zip(LEG_NAMES, LEG_COLORS, LEG_Y):
    text(131, yy, name, size=14, color=col, xanchor="left")

shapes = []


def seg(x0, y0, x1, y1, color, width=1.2):
    shapes.append(dict(type="line", xref="paper", yref="paper", x0=px(x0), y0=py(y0),
                       x1=px(x1), y1=py(y1), line=dict(color=color, width=width)))


seg(56, LEG_Y[0], 121, LEG_Y[0], C_HAM)
seg(56, LEG_Y[1], 121, LEG_Y[1], C_LGGE)
cx = 88
shapes.append(dict(type="circle", xref="paper", yref="paper", x0=px(cx - 3.2), x1=px(cx + 3.2),
                   y0=py(LEG_Y[2] + 3.2), y1=py(LEG_Y[2] - 3.2), fillcolor=C_RS,
                   line=dict(color=C_RS, width=0)))
ty = LEG_Y[3]
shapes.append(dict(type="path", xref="paper", yref="paper",
                   path=f"M {px(cx - 3)},{py(ty + 2.5)} L {px(cx + 3)},{py(ty + 2.5)} "
                        f"L {px(cx)},{py(ty - 3)} Z",
                   line=dict(color=C_IASI, width=1)))
sq = LEG_Y[4]
shapes.append(dict(type="rect", xref="paper", yref="paper", x0=px(cx - 3), x1=px(cx + 3),
                   y0=py(sq + 3), y1=py(sq - 3), line=dict(color=C_ECMWF, width=1)))
for yy, col in ((LEG_Y[5], C_AIRSA), (LEG_Y[6], C_AIRSD)):
    seg(cx - 2.5, yy - 2.5, cx + 2.5, yy + 2.5, col, 1)
    seg(cx - 2.5, yy + 2.5, cx + 2.5, yy - 2.5, col, 1)

# highlighted period (orange frame running off the bottom edge)
shapes.append(dict(type="rect", xref="paper", yref="paper", layer="above",
                   x0=px(379), x1=px(470), y0=py(1110), y1=py(94),
                   line=dict(color=C_BOX, width=8), fillcolor="rgba(0,0,0,0)"))

fig.update_layout(
    width=W, height=H, autosize=False,
    margin=dict(l=0, r=0, t=0, b=0),
    paper_bgcolor="white", plot_bgcolor="white",
    showlegend=False,
    annotations=ann, shapes=shapes,
    **layout_axes,
)

fig.write_html("out.html")
